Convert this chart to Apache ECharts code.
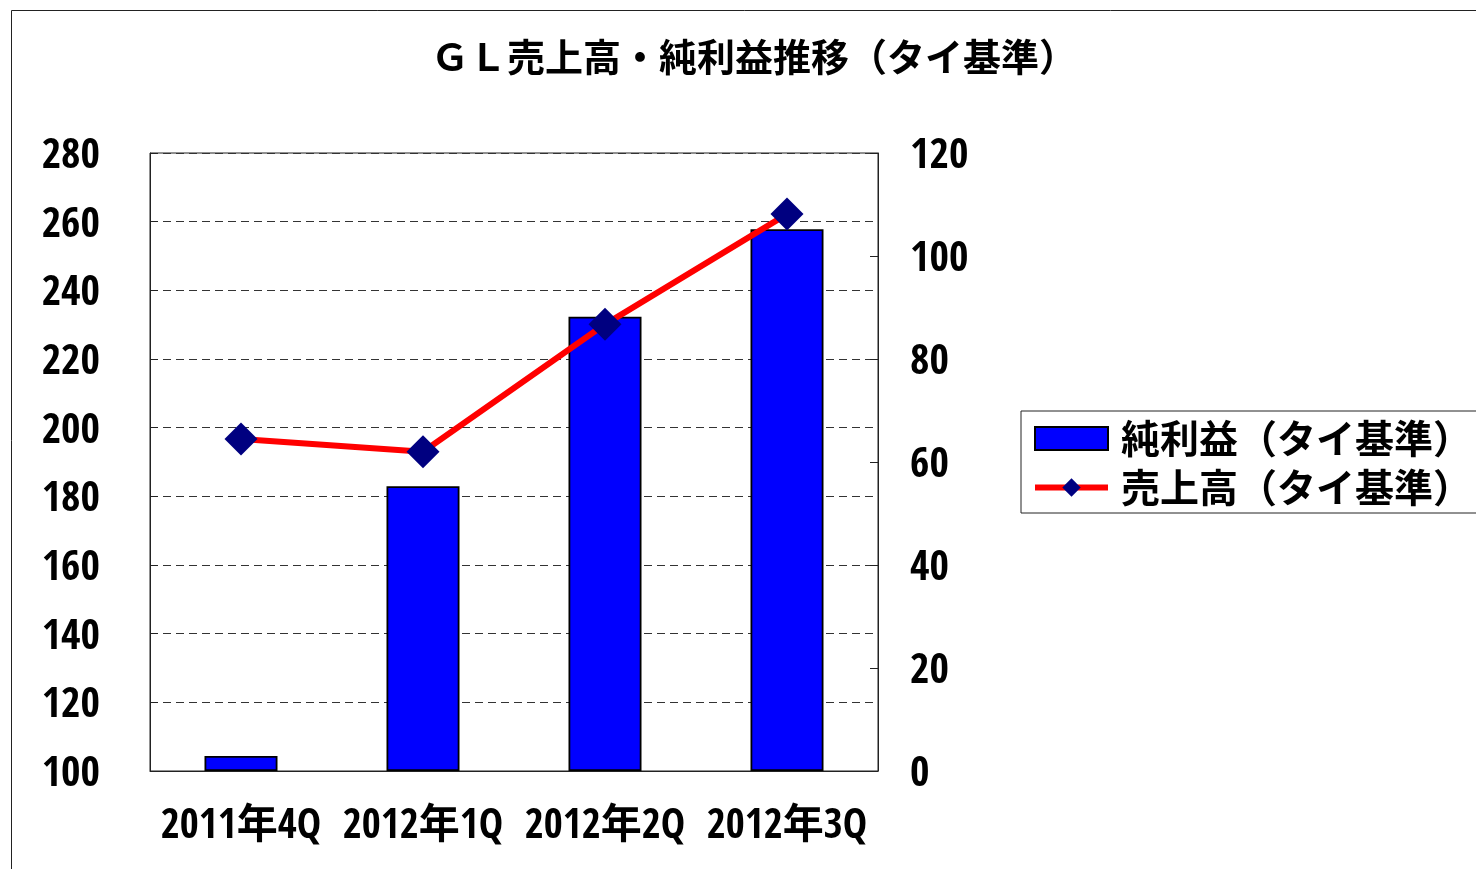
<!DOCTYPE html>
<html>
<head>
<meta charset="utf-8">
<script src="https://cdn.jsdelivr.net/npm/echarts@6/dist/echarts.min.js"></script>
<style>
  html, body { margin: 0; padding: 0; background: #fff; }
  #chart { width: 1476px; height: 869px; }
</style>
</head>
<body>
<div id="chart"></div>
<script>
// data
const categories = ['2011年4Q', '2012年1Q', '2012年2Q', '2012年3Q'];
const profit = [2.9, 55.3, 88.2, 105.2];      // 純利益 (right axis)
const sales = [196.7, 193.0, 230.1, 262.2];   // 売上高 (left axis)

const numFont = '"Open Sans Condensed", "Roboto Condensed", "Noto Sans CJK JP", sans-serif';
const jpFont = '"Noto Sans CJK JP", sans-serif';

// y tick labels sit a few px low in the original
const numRich = {
  v: { fontFamily: numFont, fontWeight: 'bold', fontSize: 42, color: '#000', padding: [8, 0, 0, 0] }
};

const chart = echarts.init(document.getElementById('chart'));

chart.setOption({
  backgroundColor: '#fff',
  animation: false,
  graphic: [{
    type: 'rect',
    shape: { x: 11.5, y: 10.5, width: 1500, height: 900 },
    style: { fill: 'none', stroke: '#222', lineWidth: 1 },
    silent: true
  }],
  title: {
    text: 'ＧＬ売上高・純利益推移（タイ基準）',
    left: 749,
    textAlign: 'center',
    top: 33,
    textStyle: { fontFamily: jpFont, fontWeight: 'bold', fontSize: 38, color: '#000' }
  },
  legend: {
    orient: 'vertical',
    left: 1021,
    top: 411,
    padding: [8, 40, 6, 11],
    itemGap: 10,
    itemWidth: 73,
    itemHeight: 23,
    borderColor: '#222',
    borderWidth: 1,
    textStyle: { fontFamily: jpFont, fontWeight: 'bold', fontSize: 39, color: '#000', padding: [0, 0, 0, 8] },
    data: [
      { name: '純利益（タイ基準）', icon: 'rect' },
      { name: '売上高（タイ基準）', lineStyle: { width: 6 } }
    ]
  },
  grid: {
    left: 150,
    right: 598,
    top: 153,
    bottom: 98,
    show: true,
    borderColor: '#222',
    borderWidth: 1
  },
  xAxis: {
    type: 'category',
    data: categories,
    boundaryGap: true,
    axisLine: { lineStyle: { color: '#222', width: 1 } },
    axisTick: { inside: true, length: 8, lineStyle: { color: '#222' } },
    axisLabel: { interval: 0, margin: 36, fontFamily: numFont, fontWeight: 'bold', fontSize: 41, color: '#000' }
  },
  yAxis: [{
    type: 'value',
    min: 100,
    max: 280,
    interval: 20,
    position: 'left',
    axisLine: { show: true, lineStyle: { color: '#222', width: 1 } },
    axisTick: { show: true, inside: true, length: 8, lineStyle: { color: '#222' } },
    axisLabel: { margin: 50, formatter: v => '{v|' + v + '}', rich: numRich },
    splitLine: { show: true, lineStyle: { color: '#333', type: [8, 5], width: 1 } }
  }, {
    type: 'value',
    min: 0,
    max: 120,
    interval: 20,
    position: 'right',
    axisLine: { show: true, lineStyle: { color: '#222', width: 1 } },
    axisTick: { show: true, inside: true, length: 8, lineStyle: { color: '#222' } },
    axisLabel: { margin: 32, formatter: v => '{v|' + v + '}', rich: numRich },
    splitLine: { show: false }
  }],
  series: [{
    name: '純利益（タイ基準）',
    type: 'bar',
    yAxisIndex: 1,
    data: profit,
    barWidth: 73,
    itemStyle: { color: '#0000ff', borderColor: '#000', borderWidth: 1.8 }
  }, {
    name: '売上高（タイ基準）',
    type: 'line',
    yAxisIndex: 0,
    data: sales,
    symbol: 'diamond',
    symbolSize: 33,
    lineStyle: { color: '#ff0000', width: 6 },
    itemStyle: { color: '#000080' },
    z: 5
  }]
});
</script>
</body>
</html>
